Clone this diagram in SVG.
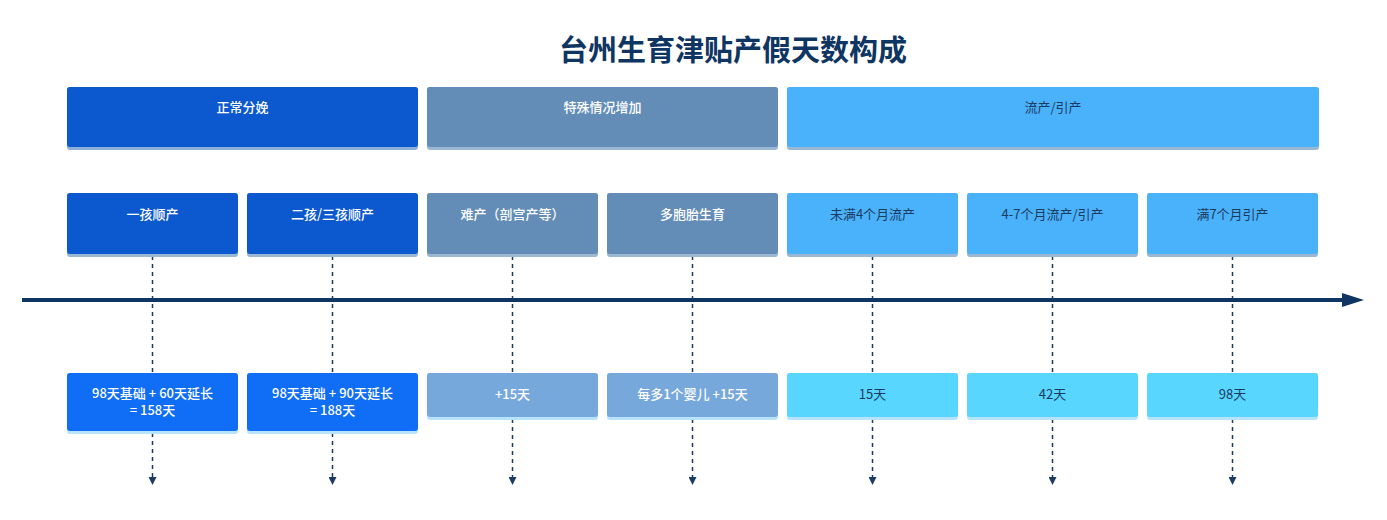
<svg xmlns="http://www.w3.org/2000/svg" width="1387" height="520" viewBox="0 0 1387 520">
<style>
text{font-family:"Noto Sans CJK SC","Liberation Sans",sans-serif;text-anchor:middle;font-size:13px}
.w{fill:#ffffff;font-weight:500}
.d{fill:#1d3a5f}
.title{font-size:29px;font-weight:bold;fill:#0f3562}
.c1{fill:#0b58cf}.c2{fill:#638db7}.c3{fill:#4ab2fb}
.v1{fill:#0f6df6}.v2{fill:#77a8db}.v3{fill:#58d6fe}
.s1{fill:#8fb0d8}.s2{fill:#9ab7d3}.s3{fill:#b8e4fb}
.dash{stroke:#1b3a64;stroke-width:1.5;stroke-dasharray:4 4;fill:none}
</style>
<defs>
<marker id="ah" markerWidth="8" markerHeight="8" refX="4" refY="4" orient="auto" markerUnits="userSpaceOnUse">
<path d="M0,0 L8,4 L0,8 Z" fill="#1b3a64"/>
</marker>
<marker id="bigah" markerWidth="22" markerHeight="14" refX="2" refY="7" orient="auto" markerUnits="userSpaceOnUse">
<path d="M0,0 L22,7 L0,14 Z" fill="#0f3562"/>
</marker>
</defs>
<text class="title" x="733" y="61">台州生育津贴产假天数构成</text>
<g id="connectors">
<line x1="22" y1="300" x2="1344" y2="300" stroke="#0f3562" stroke-width="4" marker-end="url(#bigah)"/>
<line class="dash" x1="152.5" y1="256" x2="152.5" y2="373"/>
<line class="dash" x1="332.5" y1="256" x2="332.5" y2="373"/>
<line class="dash" x1="512.5" y1="256" x2="512.5" y2="373"/>
<line class="dash" x1="692.5" y1="256" x2="692.5" y2="373"/>
<line class="dash" x1="872.5" y1="256" x2="872.5" y2="373"/>
<line class="dash" x1="1052.5" y1="256" x2="1052.5" y2="373"/>
<line class="dash" x1="1232.5" y1="256" x2="1232.5" y2="373"/>
<line class="dash" x1="152.5" y1="433" x2="152.5" y2="481" marker-end="url(#ah)"/>
<line class="dash" x1="332.5" y1="433" x2="332.5" y2="481" marker-end="url(#ah)"/>
<line class="dash" x1="512.5" y1="419" x2="512.5" y2="481" marker-end="url(#ah)"/>
<line class="dash" x1="692.5" y1="419" x2="692.5" y2="481" marker-end="url(#ah)"/>
<line class="dash" x1="872.5" y1="419" x2="872.5" y2="481" marker-end="url(#ah)"/>
<line class="dash" x1="1052.5" y1="419" x2="1052.5" y2="481" marker-end="url(#ah)"/>
<line class="dash" x1="1232.5" y1="419" x2="1232.5" y2="481" marker-end="url(#ah)"/>
</g>
<g id="g-normal"><rect class="s1" x="67" y="87" width="351" height="63" rx="3"/><rect class="c1" x="67" y="87" width="351" height="60" rx="3"/><text class="w" x="242.5" y="112">正常分娩</text></g>
<g id="g-special"><rect class="s2" x="427" y="87" width="351" height="63" rx="3"/><rect class="c2" x="427" y="87" width="351" height="60" rx="3"/><text class="w" x="602.5" y="112">特殊情况增加</text></g>
<g id="g-abort"><rect class="s2" x="787" y="87" width="532" height="63" rx="3"/><rect class="c3" x="787" y="87" width="532" height="60" rx="3"/><text class="d" x="1053" y="112">流产/引产</text></g>
<g id="n1"><rect class="s2" x="67" y="193" width="171" height="64" rx="3"/><rect class="c1" x="67" y="193" width="171" height="61" rx="3"/><text class="w" x="152.5" y="219">一孩顺产</text></g>
<g id="n2"><rect class="s2" x="247" y="193" width="171" height="64" rx="3"/><rect class="c1" x="247" y="193" width="171" height="61" rx="3"/><text class="w" x="332.5" y="219">二孩/三孩顺产</text></g>
<g id="n3"><rect class="s2" x="427" y="193" width="171" height="64" rx="3"/><rect class="c2" x="427" y="193" width="171" height="61" rx="3"/><text class="w" x="512.5" y="219">难产（剖宫产等）</text></g>
<g id="n4"><rect class="s2" x="607" y="193" width="171" height="64" rx="3"/><rect class="c2" x="607" y="193" width="171" height="61" rx="3"/><text class="w" x="692.5" y="219">多胞胎生育</text></g>
<g id="n5"><rect class="s2" x="787" y="193" width="171" height="64" rx="3"/><rect class="c3" x="787" y="193" width="171" height="61" rx="3"/><text class="d" x="872.5" y="219">未满4个月流产</text></g>
<g id="n6"><rect class="s2" x="967" y="193" width="171" height="64" rx="3"/><rect class="c3" x="967" y="193" width="171" height="61" rx="3"/><text class="d" x="1052.5" y="219">4-7个月流产/引产</text></g>
<g id="n7"><rect class="s2" x="1147" y="193" width="171" height="64" rx="3"/><rect class="c3" x="1147" y="193" width="171" height="61" rx="3"/><text class="d" x="1232.5" y="219">满7个月引产</text></g>
<g id="v1"><rect class="s3" x="67" y="373" width="171" height="61" rx="3"/><rect class="v1" x="67" y="373" width="171" height="58" rx="3"/><text class="w" x="152.5" y="398">98天基础 + 60天延长</text><text class="w" x="152.5" y="415">= 158天</text></g>
<g id="v2"><rect class="s3" x="247" y="373" width="171" height="61" rx="3"/><rect class="v1" x="247" y="373" width="171" height="58" rx="3"/><text class="w" x="332.5" y="398">98天基础 + 90天延长</text><text class="w" x="332.5" y="415">= 188天</text></g>
<g id="v3"><rect class="s3" x="427" y="373" width="171" height="47" rx="3"/><rect class="v2" x="427" y="373" width="171" height="44" rx="3"/><text class="w" x="512.5" y="399">+15天</text></g>
<g id="v4"><rect class="s3" x="607" y="373" width="171" height="47" rx="3"/><rect class="v2" x="607" y="373" width="171" height="44" rx="3"/><text class="w" x="692.5" y="399">每多1个婴儿 +15天</text></g>
<g id="v5"><rect class="s3" x="787" y="373" width="171" height="47" rx="3"/><rect class="v3" x="787" y="373" width="171" height="44" rx="3"/><text class="d" x="872.5" y="399">15天</text></g>
<g id="v6"><rect class="s3" x="967" y="373" width="171" height="47" rx="3"/><rect class="v3" x="967" y="373" width="171" height="44" rx="3"/><text class="d" x="1052.5" y="399">42天</text></g>
<g id="v7"><rect class="s3" x="1147" y="373" width="171" height="47" rx="3"/><rect class="v3" x="1147" y="373" width="171" height="44" rx="3"/><text class="d" x="1232.5" y="399">98天</text></g>
</svg>
